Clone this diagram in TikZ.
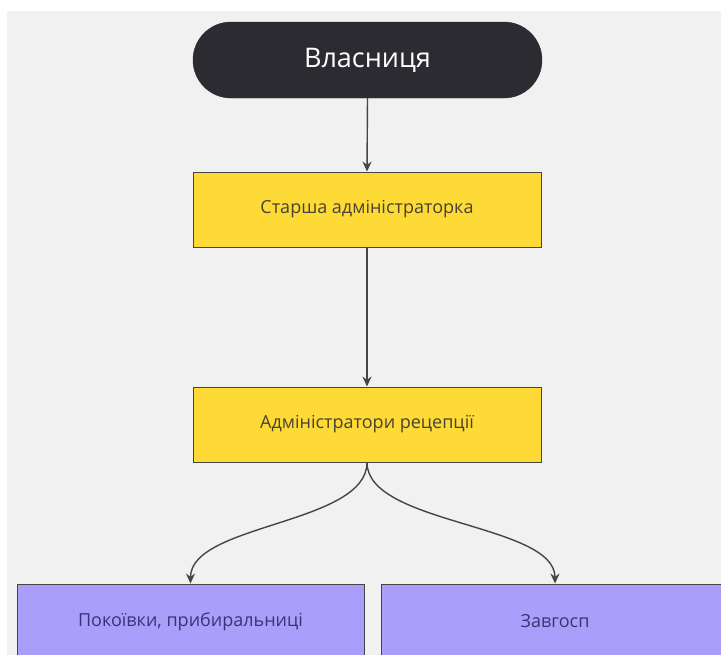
\documentclass[tikz,border=0pt]{standalone}
\usepackage{fontspec}
\setmainfont{Open Sans}
\usetikzlibrary{arrows.meta,calc}
\definecolor{bg}{HTML}{F1F1F1}
\definecolor{pilldark}{HTML}{2B2B31}
\definecolor{yel}{HTML}{FDDA35}
\definecolor{yeltext}{HTML}{4A4232}
\definecolor{purp}{HTML}{A99FFA}
\definecolor{purptext}{HTML}{3A3475}
\definecolor{edge}{HTML}{454545}
\tikzset{
  pill/.style={fill=pilldark, draw=pilldark, rounded corners=38pt, minimum width=349pt, minimum height=76pt, text=white, font=\fontsize{27}{32}\selectfont, inner sep=0pt},
  ybox/.style={fill=yel, draw=edge, line width=0.9pt, minimum width=348pt, minimum height=75pt, text=yeltext, font=\fontsize{18}{22}\selectfont, inner sep=0pt},
  pbox/.style={fill=purp, draw=edge, line width=0.9pt, minimum width=347pt, minimum height=75pt, text=purptext, font=\fontsize{18}{22}\selectfont, inner sep=0pt},
  conn/.style={draw=edge, line width=1.4pt, -{Stealth[length=10pt,width=9pt]}}
}
\begin{document}
\begin{tikzpicture}[x=1pt,y=-1pt]
\useasboundingbox (0,0) rectangle (721,654);
\clip (0,0) rectangle (721,654);
\fill[white] (0,0) rectangle (721,654);
\fill[bg] (7,11) rectangle (722,655);
\node[pill] (own) at (367.5,60) {Власниця};
\node[ybox] (senior) at (367,209.5) {Старша адміністраторка};
\node[ybox] (recep) at (367,424.5) {Адміністратори рецепції};
\node[pbox] (maids) at (190.5,621.5) {Покоївки, прибиральниці};
\node[pbox] (supply) at (555,621.5) {Завгосп};
\draw[conn] (own.south) -- (senior.north);
\draw[conn] (senior.south) -- (recep.north);
\draw[conn] (recep.south) .. controls ($(recep.south)+(0,62)$) and ($(maids.north)+(0,-60)$) .. (maids.north);
\draw[conn] (recep.south) .. controls ($(recep.south)+(0,62)$) and ($(supply.north)+(0,-60)$) .. (supply.north);
\end{tikzpicture}
\end{document}
